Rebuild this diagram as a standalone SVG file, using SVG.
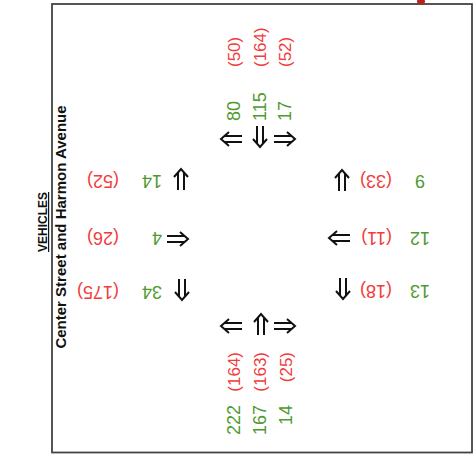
<svg xmlns="http://www.w3.org/2000/svg" width="474" height="455" viewBox="0 0 474 455">
<style>
  text { font-family: "Liberation Sans", Arial, sans-serif; }
  .r { fill: #f23c3c; font-size: 17px; }
  .g { fill: #4f9a2f; font-size: 18px; }
  .h { font-size: 18px; }
  .t { fill: #111; font-weight: bold; }
  .arrow { fill: none; stroke: #111; stroke-width: 2; stroke-linecap: butt; stroke-linejoin: miter; }
</style>
<defs>
  <path id="dbl" class="arrow" d="M-11,-3 H7 M-11,3 H7 M2,-7 L10,0 L2,7"/>
</defs>
<rect width="474" height="455" fill="#fff"/>
<rect id="frame" x="52" y="4" width="420" height="448.5" fill="none" stroke="#444" stroke-width="1.8"/>
<ellipse cx="421" cy="1.5" rx="4" ry="3" fill="#b3261e"/>

<g id="title">
  <text class="t" x="47" y="222" font-size="12" text-decoration="underline" text-anchor="middle" transform="rotate(-90 47 222)">VEHICLES</text>
  <text class="t" x="65.5" y="227" font-size="15" text-anchor="middle" transform="rotate(-90 65.5 227)">Center Street and Harmon Avenue</text>
</g>

<g id="north">
  <text class="r" x="240" y="67" transform="rotate(-90 240 67)">(50)</text>
  <text class="r" x="266" y="67" transform="rotate(-90 266 67)">(164)</text>
  <text class="r" x="291" y="67" transform="rotate(-90 291 67)">(52)</text>
  <text class="g" x="240" y="121" transform="rotate(-90 240 121)">80</text>
  <text class="g" x="266" y="121" transform="rotate(-90 266 121)">115</text>
  <text class="g" x="291" y="121" transform="rotate(-90 291 121)">17</text>
</g>

<g id="south">
  <text class="r" x="240" y="352" text-anchor="end" transform="rotate(-90 240 352)">(164)</text>
  <text class="r" x="266" y="352" text-anchor="end" transform="rotate(-90 266 352)">(163)</text>
  <text class="r" x="292" y="352" text-anchor="end" transform="rotate(-90 292 352)">(25)</text>
  <text class="g" x="240" y="405" text-anchor="end" transform="rotate(-90 240 405)">222</text>
  <text class="g" x="266" y="405" text-anchor="end" transform="rotate(-90 266 405)">167</text>
  <text class="g" x="292" y="405" text-anchor="end" transform="rotate(-90 292 405)">14</text>
</g>

<g id="west">
  <text class="r h" x="119" y="175" transform="rotate(180 119 175)">(52)</text>
  <text class="r h" x="119" y="232" transform="rotate(180 119 232)">(26)</text>
  <text class="r h" x="119" y="286" transform="rotate(180 119 286)">(175)</text>
  <text class="g" x="162" y="175" transform="rotate(180 162 175)">14</text>
  <text class="g" x="162" y="232" transform="rotate(180 162 232)">4</text>
  <text class="g" x="162" y="286" transform="rotate(180 162 286)">34</text>
</g>

<g id="east">
  <text class="r h" x="392" y="175" transform="rotate(180 392 175)">(33)</text>
  <text class="r h" x="392" y="232" transform="rotate(180 392 232)">(11)</text>
  <text class="r h" x="392" y="285" transform="rotate(180 392 285)">(18)</text>
  <text class="g" x="420" y="175" text-anchor="middle" transform="rotate(180 420 175)">9</text>
  <text class="g" x="420" y="232" text-anchor="middle" transform="rotate(180 420 232)">12</text>
  <text class="g" x="420" y="285" text-anchor="middle" transform="rotate(180 420 285)">13</text>
</g>

<g id="connectors">
  <use href="#dbl" transform="translate(231 139) rotate(180)"/>
  <use href="#dbl" transform="translate(260 137) rotate(90)"/>
  <use href="#dbl" transform="translate(285 139)"/>
  <use href="#dbl" transform="translate(231 326) rotate(180)"/>
  <use href="#dbl" transform="translate(261 324) rotate(-90)"/>
  <use href="#dbl" transform="translate(285 326)"/>
  <use href="#dbl" transform="translate(181 179) rotate(-90)"/>
  <use href="#dbl" transform="translate(178 239)"/>
  <use href="#dbl" transform="translate(182 290) rotate(90)"/>
  <use href="#dbl" transform="translate(342 180) rotate(-90)"/>
  <use href="#dbl" transform="translate(339 238) rotate(180)"/>
  <use href="#dbl" transform="translate(343 289) rotate(90)"/>
</g>
</svg>
